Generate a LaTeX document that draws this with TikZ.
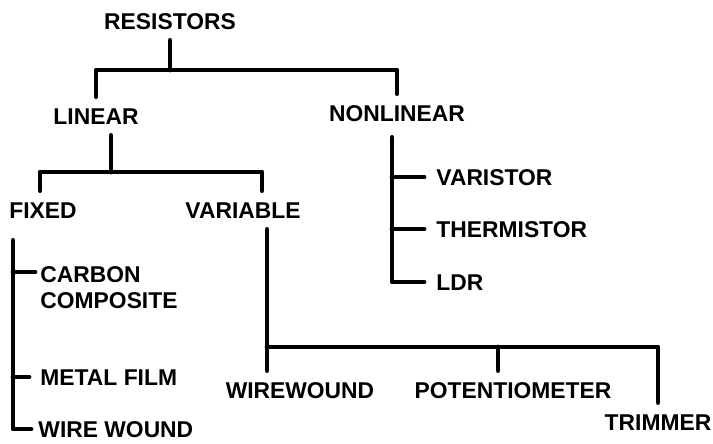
\documentclass[tikz,border=0pt]{standalone}
\usepackage{fontspec}
\setmainfont{Liberation Sans}
\tikzset{
  every picture/.style={font=\fontsize{13}{14.8}\selectfont\bfseries, line width=2.8pt},
  lbl/.style={inner xsep=0pt, inner ysep=5pt, text height=9.3pt, text depth=0pt},
  leaf/.style={lbl, anchor=west},
  branch/.style={draw=black, line width=2.8pt, line cap=round, line join=round},
  tick/.style={branch, shorten >=#1},
  tick/.default=0.2cm,
}

\begin{document}
\begin{tikzpicture}[x=0.02cm, y=-0.02cm]
  \useasboundingbox (0,0) rectangle (713,443);

  % top level
  \node[lbl] (res)  at (170,21)  {RESISTORS};
  \node[lbl] (lin)  at (96,116)  {LINEAR};
  \node[lbl] (nlin) at (397,113) {NONLINEAR};
  \coordinate (j1) at (170,70);
  \draw[branch] (res.south) -- (j1);
  \draw[branch] (lin.north) |- (j1) -| (nlin.north);

  % linear
  \node[lbl] (fix)  at (43,210)  {FIXED};
  \node[lbl] (varb) at (243,210) {VARIABLE};
  \coordinate (j2) at (111,172);
  \coordinate (fj) at (40,172);
  \coordinate (vj) at (262,172);
  \draw[branch] (lin.south -| j2) -- (j2);
  \draw[branch] (fix.north -| fj) -- (fj) -- (vj) -- (varb.north -| vj);

  % fixed
  \node[inner sep=0pt, align=left, anchor=north west] (cc) at (38,264) {CARBON\\COMPOSITE};
  \node[leaf] (mf)  at (38,377) {METAL FILM};
  \node[leaf] (ww1) at (36,429) {WIRE WOUND};
  \coordinate (fs)  at (13,238);
  \coordinate (ccl) at ([yshift=-0.16cm]cc.north west);
  \draw[tick=0.1cm, shorten <=0.22cm] (fix.south -| fs) |- (ww1.west);
  \draw[tick=0.18cm] (fs |- mf.west) -- (mf.west);
  \draw[tick=0.06cm] (fs |- ccl) -- (ccl);

  % variable
  \node[lbl] (ww2)  at (300,390) {WIREWOUND};
  \node[lbl] (pot)  at (513,390) {POTENTIOMETER};
  \node[lbl] (trim) at (658,422) {TRIMMER};
  \coordinate (j3) at (267,347);
  \coordinate (pj) at (498,347);
  \draw[branch] (varb.south -| j3) -- (j3 |- ww2.north);
  \draw[branch] (j3) -| (trim.north);
  \draw[branch] (pot.north -| pj) -- (pj);

  % nonlinear
  \node[leaf] (vari)  at (434,177) {VARISTOR};
  \node[leaf] (therm) at (434,229) {THERMISTOR};
  \node[leaf] (ldr)   at (434,282) {LDR};
  \coordinate (ns) at (392,135);
  \draw[tick, shorten <=0.1cm] (nlin.south -| ns) |- (ldr.west);
  \foreach \n in {vari, therm} \draw[tick] (ns |- \n.west) -- (\n.west);
\end{tikzpicture}
\end{document}
